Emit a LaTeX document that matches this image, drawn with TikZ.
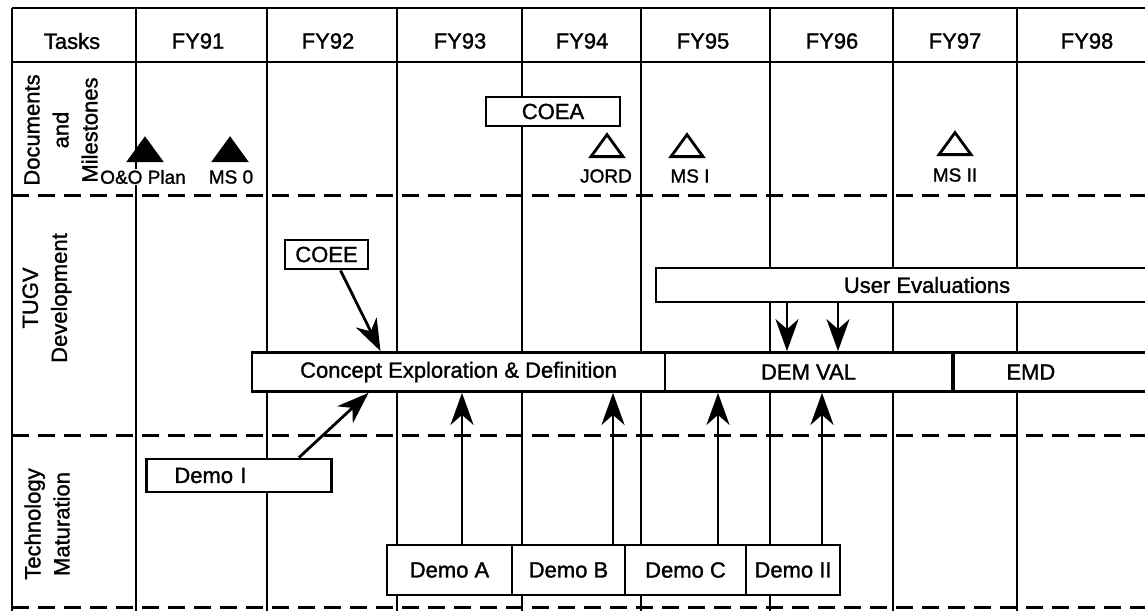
\documentclass[tikz,border=0pt]{standalone}
\usepackage{fontspec}
\setmainfont{Liberation Sans}[BoldFont={Liberation Sans}, BoldFeatures={FakeBold=1.3}]
\usetikzlibrary{arrows.meta, shapes.geometric}

\begin{document}
\begin{tikzpicture}[x=1pt, y=-1pt, line width=2.8pt,
    every node/.style={font=\fontsize{22}{26}\selectfont\bfseries},
    bar/.style={draw, fill=white, inner sep=0pt, minimum height=39pt},
    demo/.style={draw, fill=white, inner sep=0pt, minimum height=50pt},
    sep/.style={dash pattern=on 17pt off 9pt, line width=3pt},
    arr/.style={-{Stealth[length=32pt, width=23pt, inset=10pt]}},
    ms/.style={draw, isosceles triangle, shape border rotate=90, isosceles triangle stretches,
        minimum width=32pt, minimum height=22pt, inner sep=0pt, anchor=south},
    msdone/.style={ms, fill=black},
    mstodo/.style={ms, fill=white},
    mslbl/.style={fill=white, inner sep=1pt, font=\fontsize{19}{22}\selectfont\bfseries},
    rowlbl/.style={rotate=90, align=center, font=\fontsize{22}{29}\selectfont\bfseries}]

    \useasboundingbox (0,0) rectangle (1145,611);
    \clip (0,0) rectangle (1145,611);

    % frame, header and year columns
    \draw (12,8) -- (1170,8);
    \draw (12,62) -- (1170,62);
    \draw (12,8) -- (12,611);
    \foreach \x in {136,267,397,522,641,770,893,1017,1157}
        \draw (\x,8) -- (\x,611);

    % dashed row separators
    \foreach \y in {195,435,607}
        \draw[sep] (12,\y) -- (1170,\y);

    % header
    \node (tasks) at (72,41) {Tasks};
    \foreach \x/\yr in {198/91, 328/92, 460/93, 582/94, 703/95, 832/96, 955/97, 1087/98}
        \node (fy\yr) at (\x,41) {FY\yr};

    % row titles
    \node[rowlbl] (docs) at (61,130) {Documents\\and\\Milestones};
    \node[rowlbl] (tugv) at (47,298) {TUGV\\Development};
    \node[rowlbl] (tech) at (47,524) {Technology\\Maturation};

    % milestones
    \node[msdone] (oo) at (145,162) {};
    \node[mslbl] (oo lbl) at (143,177) {O\&O Plan};
    \node[msdone] (ms0) at (230,162) {};
    \node[mslbl] (ms0 lbl) at (231,177) {MS 0};
    \node[mstodo] (jord) at (607,158) {};
    \node[mslbl] (jord lbl) at (606,176) {JORD};
    \node[mstodo] (msI) at (687,158) {};
    \node[mslbl] (msI lbl) at (690,176) {MS I};
    \node[mstodo] (msII) at (955,156) {};
    \node[mslbl] (msII lbl) at (955,175) {MS II};

    % documents
    \node[draw, fill=white, inner sep=0pt, minimum width=134pt, minimum height=29pt] (coea) at (553,111.5) {COEA};
    \node[draw, fill=white, inner sep=0pt, minimum width=83pt, minimum height=29pt] (coee) at (326.5,254.5) {COEE};

    % development phases
    \node[bar, minimum width=542pt, minimum height=34pt] (user) at (927,285) {User Evaluations};
    \node[bar, minimum width=413pt] (concept) at (458.5,372) {Concept Exploration \& Definition};
    \node[bar, minimum width=287pt] (demval) at (808.5,372) {DEM VAL};
    \node[bar, anchor=west, text width=180pt, inner xsep=53pt, align=left] (emd) at (952,372) {EMD};

    % demonstrations
    \node[draw, fill=white, anchor=west, minimum height=33pt, text width=129pt,
        inner xsep=28pt, inner ysep=0pt, align=left] (demoI) at (145,475.5) {Demo I};
    \node[demo, minimum width=125pt] (demoA) at (449.5,570) {Demo A};
    \node[demo, minimum width=113pt] (demoB) at (568.5,570) {Demo B};
    \node[demo, minimum width=121pt] (demoC) at (685.5,570) {Demo C};
    \node[demo, minimum width=94pt] (demoII) at (793,570) {Demo II};

    % arrows
    \draw[arr] ([xshift=14pt]coee.south) -- ([xshift=-78pt]concept.north);
    \draw[arr] ([xshift=60pt]demoI.north) -- ([xshift=-90pt]concept.south);
    \foreach \x/\src/\dst in {462/demoA/concept, 613/demoB/concept, 718/demoC/demval, 822/demoII/demval}
        \draw[arr] (\src.north -| \x,0) -- (\dst.south -| \x,0);
    \foreach \x in {787,838}
        \draw[arr] (user.south -| \x,0) -- (demval.north -| \x,0);

\end{tikzpicture}
\end{document}
